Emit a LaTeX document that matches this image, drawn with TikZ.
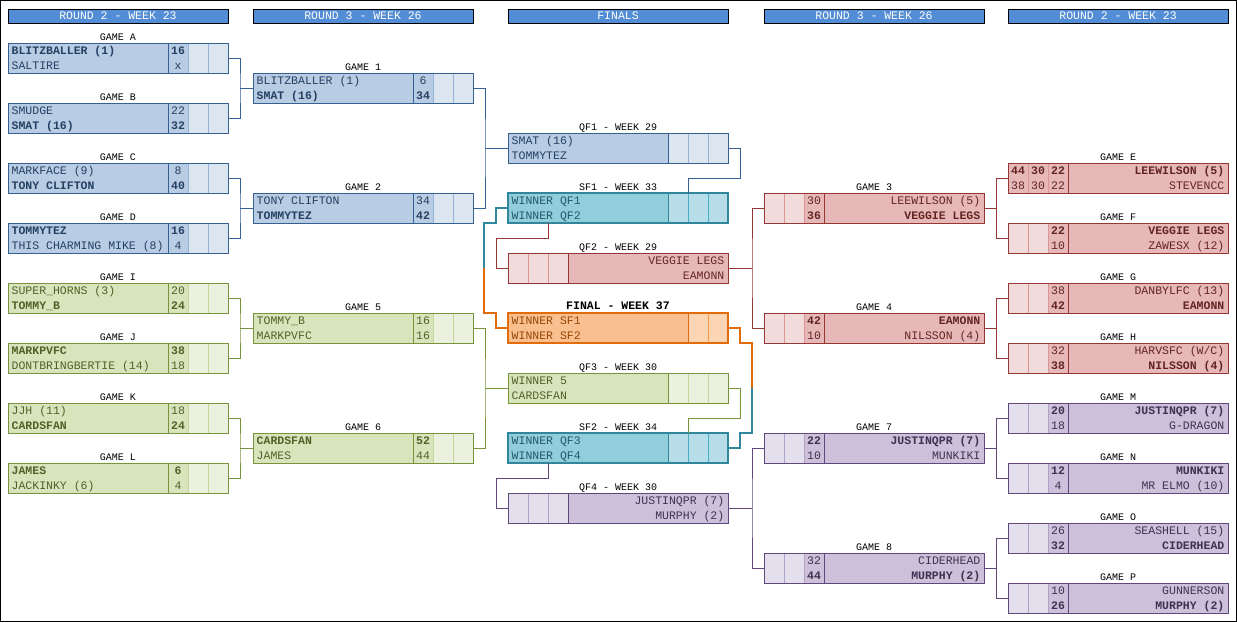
\documentclass[tikz,border=0pt]{standalone}
\usepackage{fontspec}
\setmainfont{Liberation Mono}
\usetikzlibrary{calc}
\definecolor{headblue}{HTML}{538DD5}
\definecolor{blueF}{HTML}{B8CCE4}\definecolor{blueL}{HTML}{DCE6F1}
\definecolor{blueD}{HTML}{366092}\definecolor{blueS}{HTML}{95B3D7}\definecolor{blueT}{HTML}{244062}
\definecolor{greenF}{HTML}{D8E4BC}\definecolor{greenL}{HTML}{EBF1DE}
\definecolor{greenD}{HTML}{77933C}\definecolor{greenS}{HTML}{C4D79B}\definecolor{greenT}{HTML}{4F6228}
\definecolor{redF}{HTML}{E6B8B7}\definecolor{redL}{HTML}{F2DCDB}
\definecolor{redD}{HTML}{953735}\definecolor{redS}{HTML}{DA9694}\definecolor{redT}{HTML}{632523}
\definecolor{purpleF}{HTML}{CCC0DA}\definecolor{purpleL}{HTML}{E4DFEC}
\definecolor{purpleD}{HTML}{60497A}\definecolor{purpleS}{HTML}{B1A0C7}\definecolor{purpleT}{HTML}{3F3151}
\definecolor{tealF}{HTML}{92CDDC}\definecolor{tealL}{HTML}{B7DEE8}
\definecolor{tealD}{HTML}{31869B}\definecolor{tealS}{HTML}{4BACC6}\definecolor{tealT}{HTML}{215967}
\definecolor{orangeF}{HTML}{FABF8F}\definecolor{orangeL}{HTML}{FCD5B4}
\definecolor{orangeD}{HTML}{E26B0A}\definecolor{orangeS}{HTML}{F79646}\definecolor{orangeT}{HTML}{974706}
% name, centre, colour, label, team 1, team 2, score 1, score 2, width of pale cells
\newcommand{\gameL}[9]{%
  \node[gamebox=#3] (#1) at #2 {};
  \fill[#3L] ([xshift=-#9pt]#1.north east) rectangle (#1.south east);
  \draw[#3D] ([xshift=-60pt]#1.north east) -- ([xshift=-60pt]#1.south east);
  \draw[#3S] ([xshift=-40pt]#1.north east) -- ([xshift=-40pt]#1.south east)
             ([xshift=-20pt]#1.north east) -- ([xshift=-20pt]#1.south east);
  \draw[rim=#3] (#1.north west) rectangle (#1.south east);
  \node[team=#3,anchor=base west] (#1-a) at ([xshift=3.5pt,yshift=3.5pt]#1.west) {#5};
  \node[team=#3,anchor=base west] (#1-b) at ([xshift=3.5pt,yshift=-11.5pt]#1.west) {#6};
  \node[team=#3,anchor=base] (#1-x) at ([xshift=-50pt,yshift=3.5pt]#1.east) {#7};
  \node[team=#3,anchor=base] (#1-y) at ([xshift=-50pt,yshift=-11.5pt]#1.east) {#8};
  \node[tag,anchor=base] (#1-l) at ([yshift=3pt]#1.north) {#4};}
\newcommand{\gameR}[9]{%
  \node[gamebox=#3] (#1) at #2 {};
  \fill[#3L] (#1.north west) rectangle ([xshift=#9pt]#1.south west);
  \draw[#3D] ([xshift=60pt]#1.north west) -- ([xshift=60pt]#1.south west);
  \draw[#3S] ([xshift=40pt]#1.north west) -- ([xshift=40pt]#1.south west)
             ([xshift=20pt]#1.north west) -- ([xshift=20pt]#1.south west);
  \draw[rim=#3] (#1.north west) rectangle (#1.south east);
  \node[team=#3,anchor=base east] (#1-a) at ([xshift=-3.5pt,yshift=3.5pt]#1.east) {#5};
  \node[team=#3,anchor=base east] (#1-b) at ([xshift=-3.5pt,yshift=-11.5pt]#1.east) {#6};
  \node[team=#3,anchor=base] (#1-x) at ([xshift=50pt,yshift=3.5pt]#1.west) {#7};
  \node[team=#3,anchor=base] (#1-y) at ([xshift=50pt,yshift=-11.5pt]#1.west) {#8};
  \node[tag,anchor=base] (#1-l) at ([yshift=3pt]#1.north) {#4};}
\newcommand{\joinL}[4]{%
  \coordinate (#2#3) at ($(#2.east)!.5!(#3.east)+(12,0)$);
  \draw[link=#1] (#2.east) -| (#2#3) |- (#3.east) (#2#3) -- (#4.west);}
\newcommand{\joinR}[4]{%
  \coordinate (#2#3) at ($(#2.west)!.5!(#3.west)+(-12,0)$);
  \draw[link=#1] (#2.west) -| (#2#3) |- (#3.west) (#2#3) -- (#4.east);}
\begin{document}
\begin{tikzpicture}[x=1pt,y=-1pt,
  gamebox/.style={minimum width=220pt,minimum height=30pt,inner sep=0pt,outer sep=0pt,fill=#1F},
  rim/.style={draw=#1D,line width=1pt,rim #1/.try},
  rim teal/.style={line width=2.5pt},
  rim orange/.style={line width=2.5pt},
  team/.style={font=\fontsize{11.5}{13}\selectfont,text=#1T,inner sep=0pt},
  tag/.style={font=\fontsize{10}{12}\selectfont,inner sep=0pt},
  head/.style={draw=black,line width=1pt,fill=headblue,text=white,minimum width=220pt,
    minimum height=14pt,inner sep=0pt,outer sep=0pt,font=\fontsize{11.5}{13}\selectfont},
  link/.style={draw=#1D,line width=1pt},
  boldlink/.style={draw=#1D,line width=2.5pt}]
  \useasboundingbox (0,0) rectangle (1237,622);
  \draw[line width=1pt] (0.5,0.5) rectangle (1236.5,621.5);

  \node[head] (h1) at (118,16) {ROUND 2 - WEEK 23};
  \node[head] (h2) at (363,16) {ROUND 3 - WEEK 26};
  \node[head] (h3) at (618,16) {FINALS};
  \node[head] (h4) at (874,16) {ROUND 3 - WEEK 26};
  \node[head] (h5) at (1118,16) {ROUND 2 - WEEK 23};

  \gameL{gA}{(118,58)}{blue}{GAME A}{\textbf{BLITZBALLER (1)}}{SALTIRE}{\textbf{16}}{x}{40}
  \gameL{gB}{(118,118)}{blue}{GAME B}{SMUDGE}{\textbf{SMAT (16)}}{22}{\textbf{32}}{40}
  \gameL{gC}{(118,178)}{blue}{GAME C}{MARKFACE (9)}{\textbf{TONY CLIFTON}}{8}{\textbf{40}}{40}
  \gameL{gD}{(118,238)}{blue}{GAME D}{\textbf{TOMMYTEZ}}{THIS CHARMING MIKE (8)}{\textbf{16}}{4}{40}
  \gameL{gI}{(118,298)}{green}{GAME I}{SUPER\_HORNS (3)}{\textbf{TOMMY\_B}}{20}{\textbf{24}}{40}
  \gameL{gJ}{(118,358)}{green}{GAME J}{\textbf{MARKPVFC}}{DONTBRINGBERTIE (14)}{\textbf{38}}{18}{40}
  \gameL{gK}{(118,418)}{green}{GAME K}{JJH (11)}{\textbf{CARDSFAN}}{18}{\textbf{24}}{40}
  \gameL{gL}{(118,478)}{green}{GAME L}{\textbf{JAMES}}{JACKINKY (6)}{\textbf{6}}{4}{40}

  \gameL{g1}{(363,88)}{blue}{GAME 1}{BLITZBALLER (1)}{\textbf{SMAT (16)}}{6}{\textbf{34}}{40}
  \gameL{g2}{(363,208)}{blue}{GAME 2}{TONY CLIFTON}{\textbf{TOMMYTEZ}}{34}{\textbf{42}}{40}
  \gameL{g5}{(363,328)}{green}{GAME 5}{TOMMY\_B}{MARKPVFC}{16}{16}{40}
  \gameL{g6}{(363,448)}{green}{GAME 6}{\textbf{CARDSFAN}}{JAMES}{\textbf{52}}{44}{40}

  \gameL{qf1}{(618,148)}{blue}{QF1 - WEEK 29}{SMAT (16)}{TOMMYTEZ}{}{}{60}
  \gameL{sf1}{(618,208)}{teal}{SF1 - WEEK 33}{WINNER QF1}{WINNER QF2}{}{}{60}
  \gameR{qf2}{(618,268)}{red}{QF2 - WEEK 29}{VEGGIE LEGS}{EAMONN}{}{}{60}
  \gameL{qf3}{(618,388)}{green}{QF3 - WEEK 30}{WINNER 5}{CARDSFAN}{}{}{60}
  \gameL{sf2}{(618,448)}{teal}{SF2 - WEEK 34}{WINNER QF3}{WINNER QF4}{}{}{60}
  \gameR{qf4}{(618,508)}{purple}{QF4 - WEEK 30}{JUSTINQPR (7)}{MURPHY (2)}{}{}{60}

  \node[gamebox=orange] (fin) at (618,328) {};
  \fill[orangeL] ([xshift=-40pt]fin.north east) rectangle (fin.south east);
  \draw[orangeD] ([xshift=-40pt]fin.north east) -- ([xshift=-40pt]fin.south east);
  \draw[orangeS] ([xshift=-20pt]fin.north east) -- ([xshift=-20pt]fin.south east);
  \draw[rim=orange] (fin.north west) rectangle (fin.south east);
  \node[team=orange,anchor=base west] (fin-a) at ([xshift=3.5pt,yshift=3.5pt]fin.west) {WINNER SF1};
  \node[team=orange,anchor=base west] (fin-b) at ([xshift=3.5pt,yshift=-11.5pt]fin.west) {WINNER SF2};
  \node[tag,font=\fontsize{11.5}{13}\selectfont\bfseries,anchor=base] (fin-l) at ([yshift=3.5pt]fin.north) {FINAL - WEEK 37};

  \gameR{g3}{(874,208)}{red}{GAME 3}{LEEWILSON (5)}{\textbf{VEGGIE LEGS}}{30}{\textbf{36}}{40}
  \gameR{g4}{(874,328)}{red}{GAME 4}{\textbf{EAMONN}}{NILSSON (4)}{\textbf{42}}{10}{40}
  \gameR{g7}{(874,448)}{purple}{GAME 7}{\textbf{JUSTINQPR (7)}}{MUNKIKI}{\textbf{22}}{10}{40}
  \gameR{g8}{(874,568)}{purple}{GAME 8}{CIDERHEAD}{\textbf{MURPHY (2)}}{32}{\textbf{44}}{40}

  \gameR{gE}{(1118,178)}{red}{GAME E}{\textbf{LEEWILSON (5)}}{STEVENCC}{\textbf{22}}{22}{0}
  \node[team=red,anchor=base] (gE-x1) at ([xshift=10pt,yshift=3.5pt]gE.west) {\textbf{44}};
  \node[team=red,anchor=base] (gE-x2) at ([xshift=30pt,yshift=3.5pt]gE.west) {\textbf{30}};
  \node[team=red,anchor=base] (gE-y1) at ([xshift=10pt,yshift=-11.5pt]gE.west) {38};
  \node[team=red,anchor=base] (gE-y2) at ([xshift=30pt,yshift=-11.5pt]gE.west) {30};
  \gameR{gF}{(1118,238)}{red}{GAME F}{\textbf{VEGGIE LEGS}}{ZAWESX (12)}{\textbf{22}}{10}{40}
  \gameR{gG}{(1118,298)}{red}{GAME G}{DANBYLFC (13)}{\textbf{EAMONN}}{38}{\textbf{42}}{40}
  \gameR{gH}{(1118,358)}{red}{GAME H}{HARVSFC (W/C)}{\textbf{NILSSON (4)}}{32}{\textbf{38}}{40}
  \gameR{gM}{(1118,418)}{purple}{GAME M}{\textbf{JUSTINQPR (7)}}{G-DRAGON}{\textbf{20}}{18}{40}
  \gameR{gN}{(1118,478)}{purple}{GAME N}{\textbf{MUNKIKI}}{MR ELMO (10)}{\textbf{12}}{4}{40}
  \gameR{gO}{(1118,538)}{purple}{GAME O}{SEASHELL (15)}{\textbf{CIDERHEAD}}{26}{\textbf{32}}{40}
  \gameR{gP}{(1118,598)}{purple}{GAME P}{GUNNERSON}{\textbf{MURPHY (2)}}{10}{\textbf{26}}{40}

  \joinL{blue}{gA}{gB}{g1}
  \joinL{blue}{gC}{gD}{g2}
  \joinL{green}{gI}{gJ}{g5}
  \joinL{green}{gK}{gL}{g6}
  \joinL{blue}{g1}{g2}{qf1}
  \joinL{green}{g5}{g6}{qf3}
  \joinR{red}{gE}{gF}{g3}
  \joinR{red}{gG}{gH}{g4}
  \joinR{purple}{gM}{gN}{g7}
  \joinR{purple}{gO}{gP}{g8}
  \joinR{red}{g3}{g4}{qf2}
  \joinR{purple}{g7}{g8}{qf4}

  \coordinate (sf1top) at ([xshift=-40pt]sf1.north east);
  \coordinate (sf1bot) at ([xshift=40pt]sf1.south west);
  \coordinate (sf2top) at ([xshift=-40pt]sf2.north east);
  \coordinate (sf2bot) at ([xshift=40pt]sf2.south west);
  \coordinate (qf1sf1) at ($(qf1.south)!.5!(sf1.north)$);
  \coordinate (qf2sf1) at ($(sf1.south)!.5!(qf2.north)$);
  \coordinate (qf3sf2) at ($(qf3.south)!.5!(sf2.north)$);
  \coordinate (qf4sf2) at ($(sf2.south)!.5!(qf4.north)$);
  \draw[link=blue] (qf1.east) -- ++(12,0) |- (sf1top |- qf1sf1) -- (sf1top);
  \draw[link=red] (qf2.west) -- ++(-12,0) |- (sf1bot |- qf2sf1) -- (sf1bot);
  \draw[link=green] (qf3.east) -- ++(12,0) |- (sf2top |- qf3sf2) -- (sf2top);
  \draw[link=purple] (qf4.west) -- ++(-12,0) |- (sf2bot |- qf4sf2) -- (sf2bot);

  \coordinate (semL) at ($(sf1.west)!.5!(fin.west)+(-24,0)$);
  \coordinate (semR) at ($(fin.east)!.5!(sf2.east)+(24,0)$);
  \draw[boldlink=teal] (sf1.west) -- ++(-12,0) |- (sf1.south -| semL) -- (semL);
  \draw[boldlink=orange] (semL) -- (fin.north -| semL) -- ++(12,0) |- (fin.west);
  \draw[boldlink=orange] (fin.east) -- ++(12,0) |- (fin.south -| semR) -- (semR);
  \draw[boldlink=teal] (semR) -- (sf2.north -| semR) -- ++(-12,0) |- (sf2.east);
\end{tikzpicture}
\end{document}
